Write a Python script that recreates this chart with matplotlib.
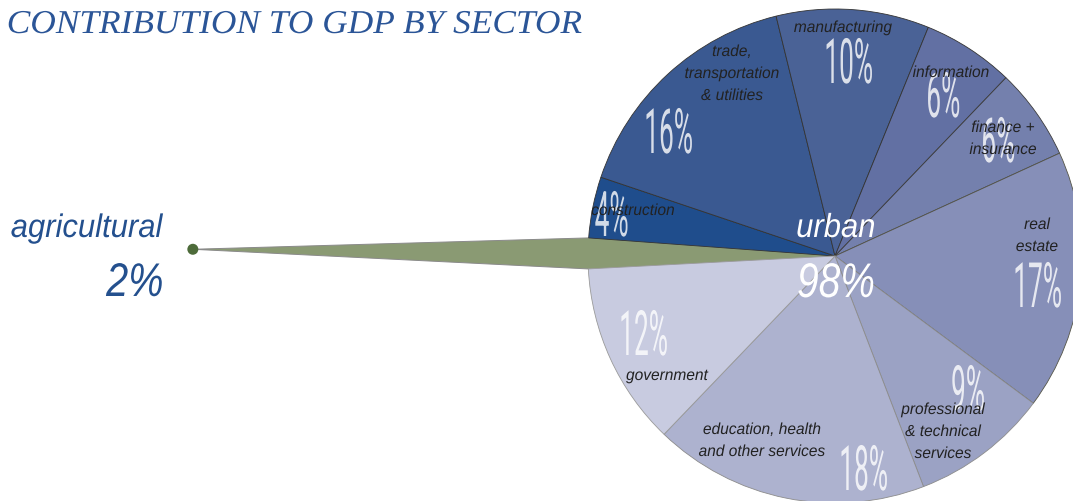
import matplotlib

matplotlib.use("Agg")
import matplotlib.pyplot as plt
import numpy as np
from matplotlib.patches import Circle, Polygon
from matplotlib.patheffects import AbstractPathEffect
from matplotlib.transforms import Affine2D

# Sector shares of GDP, in clockwise order starting with the exploded slice.
SECTORS = [
    "agricultural",
    "construction",
    "trade,\ntransportation\n& utilities",
    "manufacturing",
    "information",
    "finance +\ninsurance",
    "real\nestate",
    "professional\n& technical\nservices",
    "education, health\nand other services",
    "government",
]
SHARES = [2, 4, 16, 10, 6, 6, 17, 9, 18, 12]
URBAN_LABEL = "urban"
TITLE = "CONTRIBUTION TO GDP BY SECTOR"

COLORS = [
    "#8a9a73", "#1f4d8c", "#3a5991", "#4a6296", "#6270a3",
    "#7480ad", "#868fb8", "#9ba2c4", "#adb2cf", "#c8cbe0",
]
EDGES = [
    "none", "#333333", "#333333", "#333333", "#333333",
    "#3c3c3c", "#555548", "#8c8c8c", "#8c8c8c", "#9a9a9a",
]

W, H = 1073, 501
CENTER = (835, H - 256)
RADIUS = 247
TIP_REACH = 2.6

# label anchors in image pixels: (ink centre x, first baseline y)
LABEL_XY = [None, (633, 215), (732, 56), (843, 32), (951, 77), (1003, 132),
            (1037, 229), (943, 414), (762, 434), (667, 380)]
PCT_XY = [None, (612, 236), (668, 153), (848, 83), (943, 117), (998, 162),
          (1037, 307), (968, 410), (863, 490), (643, 355)]
LINE_STEP = 22

SANS = ["Liberation Sans", "DejaVu Sans"]
THIN = ["Roboto", "Liberation Sans", "DejaVu Sans"]
SERIF = ["Liberation Serif", "DejaVu Serif"]
BLUE = "#24508e"


class Squeeze(AbstractPathEffect):
    """Narrow the glyph outlines horizontally about their own centre."""

    def __init__(self, sx):
        super().__init__()
        self.sx = sx

    def draw_path(self, renderer, gc, tpath, affine, rgbFace=None):
        ext = tpath.get_extents()
        cx = 0.5 * (ext.x0 + ext.x1)
        squeeze = Affine2D().translate(-cx, 0).scale(self.sx, 1).translate(cx, 0)
        renderer.draw_path(gc, tpath, squeeze + affine, rgbFace)


def put(ax, x, y, s, size, sx=1.0, color="#222222", style="italic", family=SANS, **kw):
    ax.text(x, H - y, s, fontsize=size, color=color, style=style, family=family,
            ha="center", va="baseline", path_effects=[Squeeze(sx)], **kw)


fig = plt.figure(figsize=(W / 100, H / 100), dpi=100, facecolor="white")
ax = fig.add_axes([0, 0, 1, 1])

wedges, _ = ax.pie(
    SHARES, colors=COLORS, startangle=183, counterclock=False,
    center=CENTER, radius=RADIUS, wedgeprops=dict(linewidth=0.6),
)
for wedge, edge in zip(wedges, EDGES):
    wedge.set_edgecolor(edge)

# pull the agricultural slice out to a point on the left
agri = wedges[0]
t1, t2 = np.radians(agri.theta1), np.radians(agri.theta2)
mid = 0.5 * (t1 + t2)
cx, cy = CENTER
tip = (cx + TIP_REACH * RADIUS * np.cos(mid), cy + TIP_REACH * RADIUS * np.sin(mid))
p1 = (cx + RADIUS * np.cos(t1), cy + RADIUS * np.sin(t1))
p2 = (cx + RADIUS * np.cos(t2), cy + RADIUS * np.sin(t2))
ax.add_patch(Polygon([tip, p1, CENTER, p2], closed=True, facecolor=COLORS[0],
                     edgecolor="#8a8a8a", linewidth=0.7, zorder=0.9))
ax.add_patch(Circle(tip, 5.5, facecolor="#4d6b3a", edgecolor="none", zorder=3))

# percentages first, sector names drawn over them
for share, xy in zip(SHARES, PCT_XY):
    if xy is None:
        continue
    put(ax, xy[0], xy[1], f"{share}%", 45, sx=0.42, color="white", style="normal",
        family=THIN, alpha=0.8)
for name, xy in zip(SECTORS, LABEL_XY):
    if xy is None:
        continue
    for i, line in enumerate(name.split("\n")):
        put(ax, xy[0], xy[1] + i * LINE_STEP, line, 11.5, sx=0.97)

urban = sum(SHARES[1:])
put(ax, 836, 237, URBAN_LABEL, 24, sx=0.93, color="white")
put(ax, 836, 297, f"{urban}%", 35, sx=0.8, color="white")

put(ax, 86.5, 237, SECTORS[0], 23.5, sx=0.95, color=BLUE)
put(ax, 135, 296, f"{SHARES[0]}%", 34, sx=0.84, color=BLUE)

put(ax, 295, 33, TITLE, 24, sx=1.06, color="#2b5597", family=SERIF)

ax.set_xlim(0, W)
ax.set_ylim(0, H)
ax.set_aspect("equal")
ax.axis("off")

fig.savefig("out.png", dpi=100, facecolor="white")
